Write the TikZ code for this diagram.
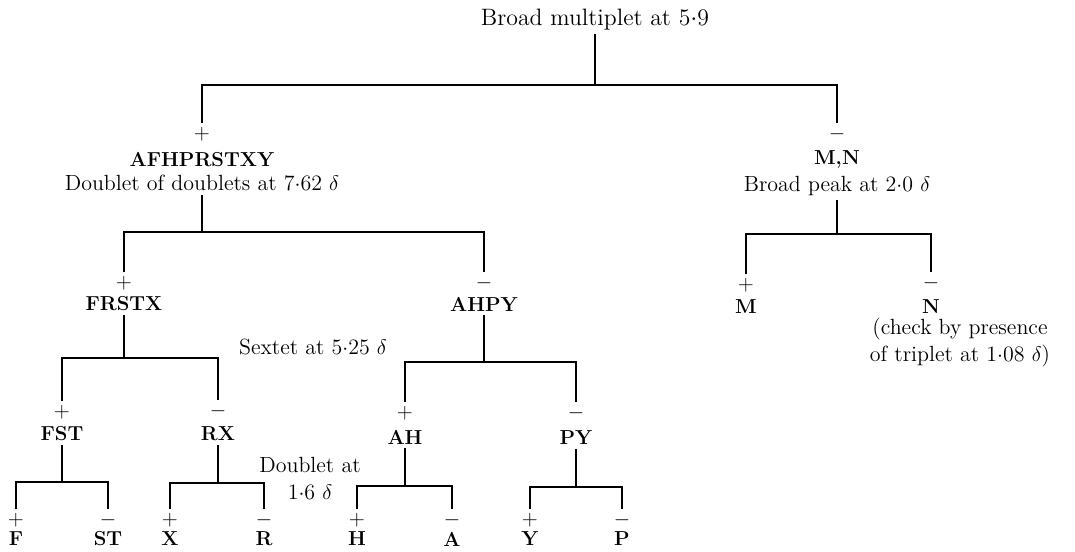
\documentclass[tikz,border=0pt]{standalone}
\usetikzlibrary{positioning}

\begin{document}
\begin{tikzpicture}[
    txt/.style={font=\fontsize{12.5}{15}\selectfont, inner sep=2pt},
    grp/.style={font=\fontsize{11.5}{13}\selectfont\bfseries, inner sep=2pt},
    sgn/.style={font=\fontsize{12}{14}\selectfont, inner sep=2pt},
    note/.style={txt, align=center},
    link/.style={line width=1pt}
  ]
  \useasboundingbox (0,0) rectangle (21.5,-11.02);

  % top level
  \node[txt, font=\fontsize{13.5}{15}\selectfont] (root) at (11.90,-0.40) {Broad multiplet at 5$\cdot$9};
  \coordinate (bar0) at (11.90,-1.70);

  \node[sgn] (sAll) at (4.04,-2.68) {$+$};
  \node[grp] (lAll) at (4.04,-3.20) {AFHPRSTXY};
  \node[txt] (dAll) at (4.04,-3.66) {Doublet of doublets at 7$\cdot$62 $\delta$};
  \node[sgn] (sMN) at (16.74,-2.68) {$-$};
  \node[grp] (lMN) at (16.74,-3.20) {M,N};
  \node[txt] (dMN) at (16.74,-3.72) {Broad peak at 2$\cdot$0 $\delta$};

  \draw[link] (root) -- (bar0);
  \draw[link] (sAll.north) |- (bar0) -| (sMN.north);

  % second level
  \coordinate (barAll) at (4.04,-4.64);
  \coordinate (barMN) at (16.74,-4.68);

  \node[sgn] (sFRSTX) at (2.48,-5.66) {$+$};
  \node[grp] (lFRSTX) at (2.48,-6.08) {FRSTX};
  \node[sgn] (sAHPY) at (9.68,-5.66) {$-$};
  \node[grp] (lAHPY) at (9.68,-6.08) {AHPY};
  \node[txt] (sextet) at (6.26,-6.94) {Sextet at 5$\cdot$25 $\delta$};

  \node[sgn] (sM) at (14.92,-5.70) {$+$};
  \node[grp] (lM) at (14.92,-6.14) {M};
  \node[sgn] (sN) at (18.62,-5.66) {$-$};
  \node[grp] (lN) at (18.62,-6.14) {N};
  \node[note] (check) at (19.20,-6.85) {(check by presence\\of triplet at 1$\cdot$08 $\delta$)};

  \draw[link] (dAll) -- (barAll);
  \draw[link] (sFRSTX.north) |- (barAll) -| (sAHPY.north);
  \draw[link] (dMN) -- (barMN);
  \draw[link] (sM.north) |- (barMN) -| (sN.north);

  % third level
  \coordinate (barFRSTX) at (2.48,-7.16);
  \coordinate (barAHPY) at (9.68,-7.24);

  \node[sgn] (sFST) at (1.24,-8.24) {$+$};
  \node[grp] (lFST) at (1.24,-8.68) {FST};
  \node[sgn] (sRX) at (4.36,-8.22) {$-$};
  \node[grp] (lRX) at (4.36,-8.68) {RX};
  \node[sgn] (sAH) at (8.10,-8.26) {$+$};
  \node[grp] (lAH) at (8.10,-8.74) {AH};
  \node[sgn] (sPY) at (11.52,-8.26) {$-$};
  \node[grp] (lPY) at (11.52,-8.76) {PY};
  \node[note] (dbl) at (6.20,-9.57) {Doublet at\\1$\cdot$6 $\delta$};

  \draw[link] (lFRSTX) -- (barFRSTX);
  \draw[link] (sFST.north) |- (barFRSTX) -| (sRX.north);
  \draw[link] (lAHPY) -- (barAHPY);
  \draw[link] (sAH.north) |- (barAHPY) -| (sPY.north);

  % leaves
  \coordinate (barFST) at (1.24,-9.64);
  \coordinate (barRX) at (4.36,-9.66);
  \coordinate (barAH) at (8.10,-9.72);
  \coordinate (barPY) at (11.52,-9.74);

  \foreach \nm/\x/\s in {F/0.32/+, ST/2.16/-, X/3.40/+, R/5.28/-,
                         H/7.14/+, A/9.04/-, Y/10.60/+, P/12.44/-} {
    \node[sgn] (s\nm) at (\x,-10.40) {$\s$};
    \node[grp] (l\nm) at (\x,-10.78) {\nm};
  }

  \draw[link] (lFST) -- (barFST);
  \draw[link] (sF.north) |- (barFST) -| (sST.north);
  \draw[link] (lRX) -- (barRX);
  \draw[link] (sX.north) |- (barRX) -| (sR.north);
  \draw[link] (lAH) -- (barAH);
  \draw[link] (sH.north) |- (barAH) -| (sA.north);
  \draw[link] (lPY) -- (barPY);
  \draw[link] (sY.north) |- (barPY) -| (sP.north);
\end{tikzpicture}
\end{document}
